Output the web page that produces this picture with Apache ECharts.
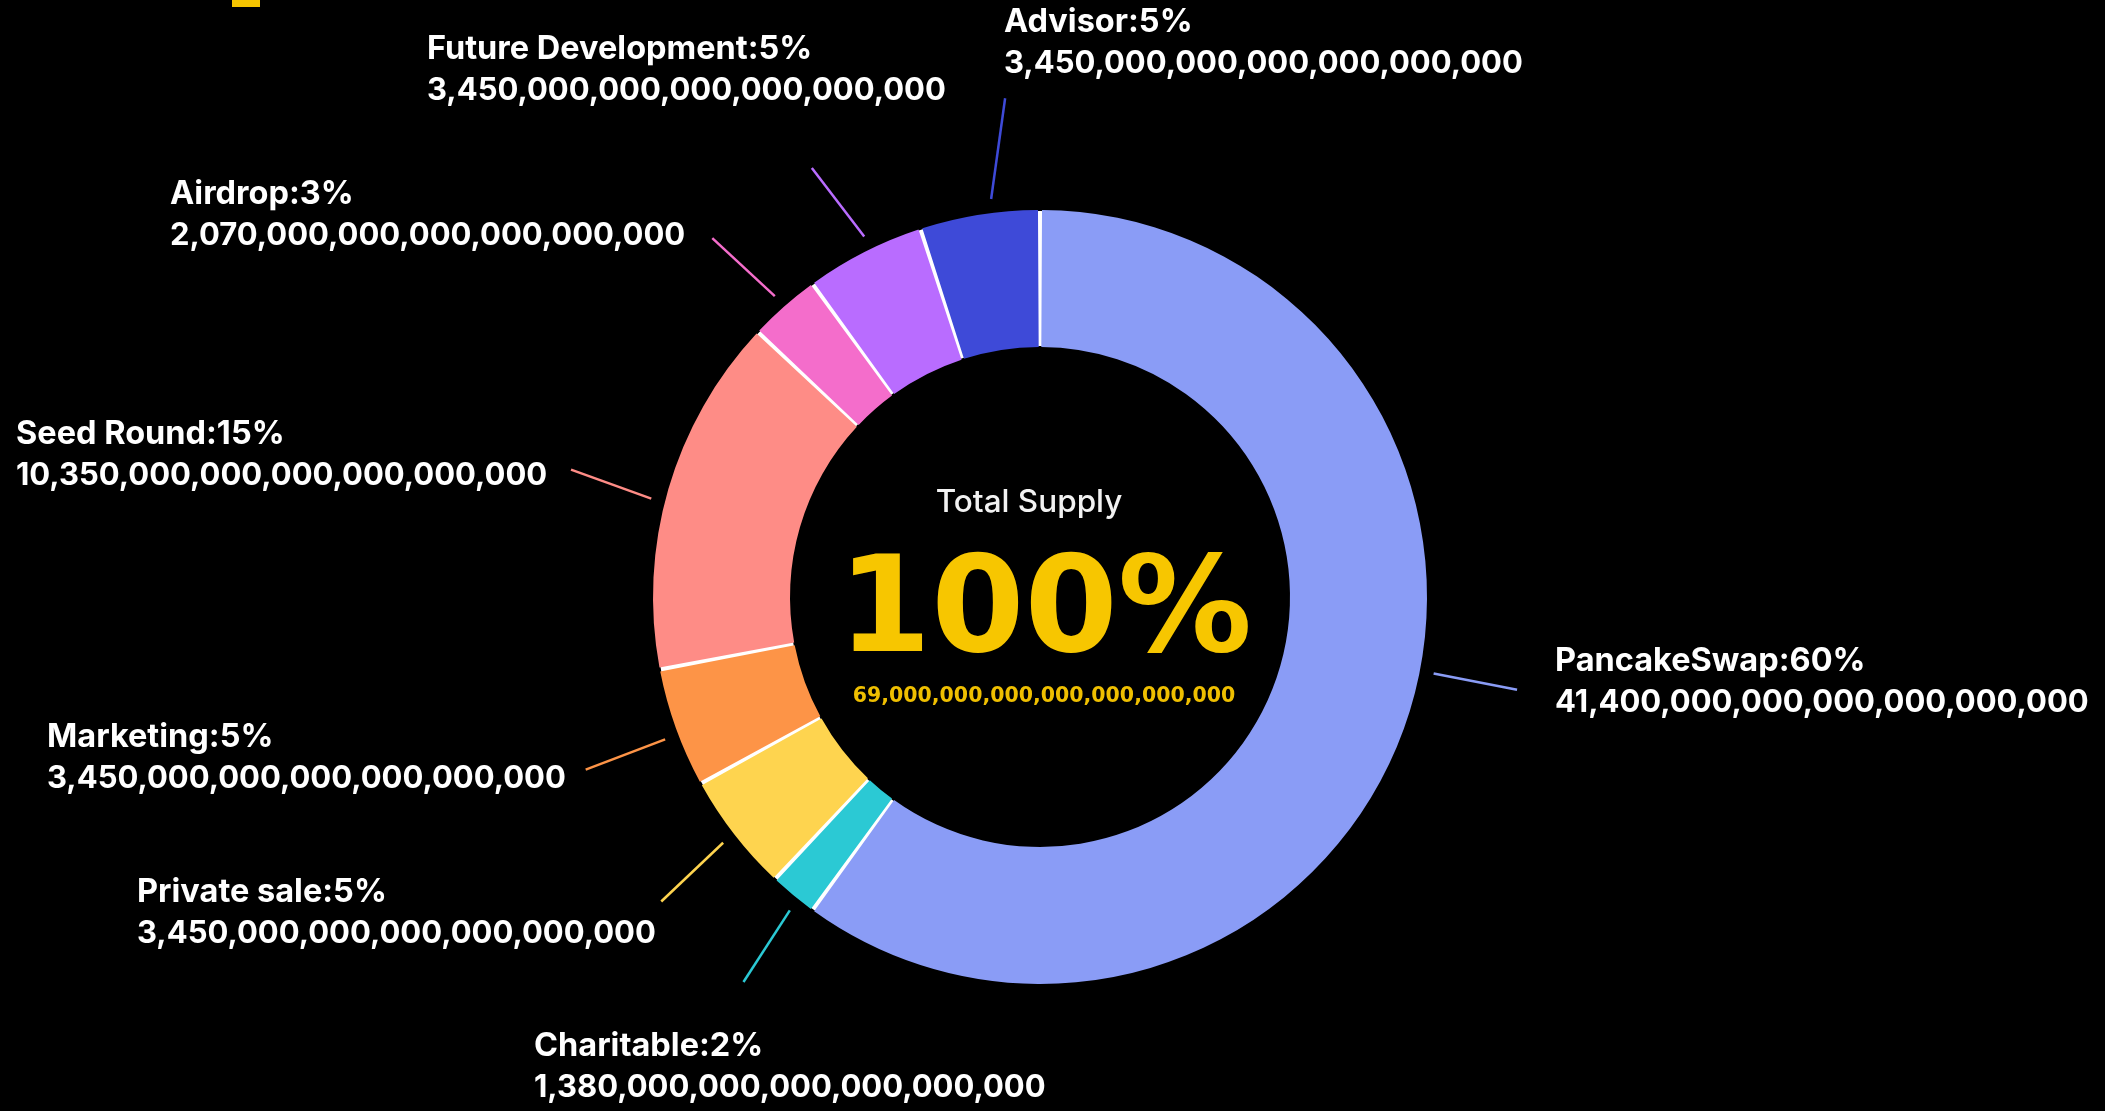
<!DOCTYPE html>
<html>
<head>
<meta charset="utf-8">
<script src="https://cdn.jsdelivr.net/npm/echarts@6/dist/echarts.min.js"></script>
<style>
html,body{margin:0;padding:0;background:#000;}
#chart{width:2105px;height:1111px;}
</style>
</head>
<body>
<div id="chart"></div>
<script>
// ---- data (amounts are in units of 10^18 tokens) ----
const categories = ['PancakeSwap', 'Charitable', 'Private sale', 'Marketing', 'Seed Round', 'Airdrop', 'Future Development', 'Advisor'];
const amounts = [41400, 1380, 3450, 3450, 10350, 2070, 3450, 3450];
const AMOUNT_UNIT = 10n ** 18n;
const centerTitle = 'Total Supply';
const centerPercent = '100%';

// ---- styles / layout ----
const colors = ['#8a9cf6', '#2bc9d4', '#fed44f', '#fd9447', '#fe8c86', '#f46dcb', '#b96cff', '#3e4ad8'];
const CX = 1040, CY = 597, R_IN = 250, R_OUT = 387;
const LINE_R0 = 401, LINE_R1 = 486;
// top-left corner of every label block
const labelBoxes = [[1555, 640], [534, 1025], [137, 871], [47, 716], [16, 413], [170, 173], [427, 28], [1004, 1]];
// small angular tweak (deg) of label line ends [inner, outer]
const lineTilt = [[-7, -7], [-1, -2], [0, -1], [-1, -1], [-2, -1], [0, -1], [1, -1], [2, 5]];

function fmtAmount(v) { return (BigInt(v) * AMOUNT_UNIT).toLocaleString('en-US'); }
const total = amounts.reduce((a, b) => a + b, 0);

const chart = echarts.init(document.getElementById('chart'));
const labelFont = 'Inter, "Noto Sans", sans-serif';

chart.setOption({
  backgroundColor: '#000',
  animation: false,
  graphic: [
    { type: 'rect', shape: { x: 232, y: 0, width: 28, height: 7 }, style: { fill: '#f5c400' } },
    { type: 'text', x: CX - 11, y: 503, style: { text: centerTitle, fill: '#f2f2f2', font: '500 31.5px Inter, "Noto Sans", sans-serif', align: 'center', verticalAlign: 'middle', textAlign: 'center', textVerticalAlign: 'middle' } },
    { type: 'text', x: CX + 5, y: 616, style: { text: centerPercent, fill: '#f7c600', font: 'bold 134px "DejaVu Sans", sans-serif', align: 'center', verticalAlign: 'middle', textAlign: 'center', textVerticalAlign: 'middle' } },
    { type: 'text', x: CX + 4, y: 697, style: { text: fmtAmount(total), fill: '#efbf00', font: 'bold 20.5px "DejaVu Sans", sans-serif', align: 'center', verticalAlign: 'middle', textAlign: 'center', textVerticalAlign: 'middle' } }
  ],
  series: [
    {
      type: 'pie',
      silent: true,
      center: [CX, CY],
      radius: [R_IN + 1, R_OUT - 1],
      label: { show: false },
      labelLine: { show: false },
      itemStyle: { color: '#ffffff' },
      data: [{ value: 1, name: 'bg' }],
      z: 1
    },
    {
      type: 'pie',
      z: 2,
      center: [CX, CY],
      radius: [R_IN, R_OUT],
      startAngle: 90,
      clockwise: true,
      padAngle: 0.6,
      avoidLabelOverlap: false,
      emphasis: { disabled: true },
      color: colors,
      data: categories.map((c, i) => ({ name: c, value: amounts[i] })),
      label: {
        show: true,
        position: 'outside',
        formatter: p => '{n|' + p.name + ':' + p.percent + '%}\n{a|' + fmtAmount(p.value) + '}',
        rich: {
          n: { color: '#ffffff', fontFamily: labelFont, fontWeight: 'bold', fontSize: 32.5, lineHeight: 42, align: 'left' },
          a: { color: '#ffffff', fontFamily: labelFont, fontWeight: 'bold', fontSize: 31, lineHeight: 42, align: 'left' }
        }
      },
      labelLine: { show: true, length: 20, length2: 0, lineStyle: { width: 2.5 } },
      labelLayout: function (p) {
        const i = p.dataIndex;
        let before = 0;
        for (let k = 0; k < i; k++) before += amounts[k];
        const mid = (before + amounts[i] / 2) / total * 360;
        const pt = (r, deg) => { const a = deg * Math.PI / 180; return [CX + r * Math.sin(a), CY - r * Math.cos(a)]; };
        const p0 = pt(LINE_R0, mid + lineTilt[i][0]);
        const p1 = pt(LINE_R1 + (i === 7 ? 14 : 0), mid + lineTilt[i][1]);
        return { x: labelBoxes[i][0], y: labelBoxes[i][1], align: 'left', verticalAlign: 'top', labelLinePoints: [p0, p1] };
      }
    }
  ]
});
</script>
</body>
</html>
